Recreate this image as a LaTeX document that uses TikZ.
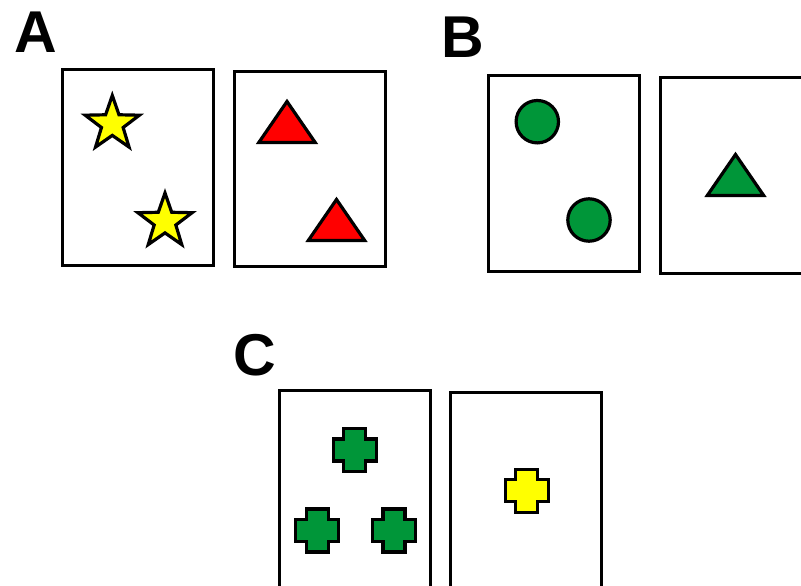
\documentclass[tikz,border=0pt]{standalone}
\usepackage{fontspec}
\setmainfont{Liberation Sans}
\definecolor{shgreen}{RGB}{0,150,57}
\definecolor{shyellow}{RGB}{255,255,0}
\definecolor{shred}{RGB}{255,0,0}
\begin{document}
\begin{tikzpicture}[x=1pt,y=-1pt,
  panel/.style={draw=black,line width=3.2pt,fill=white},
  lbl/.style={inner sep=0pt,anchor=base west,font=\fontsize{59}{59}\selectfont\bfseries},
  shp/.style={draw=black,line width=3.2pt,miter limit=10},
  starpic/.pic={\path[pic actions] (90:-28.5) \foreach \k in {1,...,9}{-- ({90+36*\k}:{-28.5*(1-0.6*mod(\k,2))})} -- cycle;},
  tripic/.pic={\path[pic actions] (0,-20.5) -- (28.2,20.5) -- (-28.2,20.5) -- cycle;},
  pluspic/.pic={\path[pic actions] (-11,-21.5) -- (11,-21.5) -- (11,-11) -- (21.5,-11) -- (21.5,11) -- (11,11) -- (11,21.5) -- (-11,21.5) -- (-11,11) -- (-21.5,11) -- (-21.5,-11) -- (-11,-11) -- cycle;}
]
\useasboundingbox (0,0) rectangle (801,586);
\clip (0,0) rectangle (801,586);
% Panel A
\node[lbl] (la) at (14,53) {A};
\draw[panel] (62.5,69.8) rectangle (213.5,265.2);
\draw[panel] (234.2,71.5) rectangle (385.8,266.8);
\pic[shp,fill=shyellow] at (112.3,124) {starpic};
\pic[shp,fill=shyellow] at (165,221.5) {starpic};
\pic[shp,fill=shred] at (287,122) {tripic};
\pic[shp,fill=shred] at (336.5,220) {tripic};
% Panel B
\node[lbl] (lb) at (441,58) {B};
\draw[panel] (488.2,75.5) rectangle (639.2,271.8);
\draw[panel] (660.2,77.5) rectangle (820,273.2);
\draw[shp,fill=shgreen] (537.3,121.7) circle (21.2);
\draw[shp,fill=shgreen] (589,220) circle (21.2);
\pic[shp,fill=shgreen] at (735.5,175) {tripic};
% Panel C
\node[lbl] (lc) at (233,375) {C};
\draw[panel] (279.2,390.8) rectangle (430.2,600);
\draw[panel] (450.8,392.5) rectangle (601.8,600);
\pic[shp,fill=shgreen] at (354.7,450) {pluspic};
\pic[shp,fill=shgreen] at (317.3,530.5) {pluspic};
\pic[shp,fill=shgreen] at (394,530.5) {pluspic};
\pic[shp,fill=shyellow] at (526.7,490.7) {pluspic};
\end{tikzpicture}
\end{document}
